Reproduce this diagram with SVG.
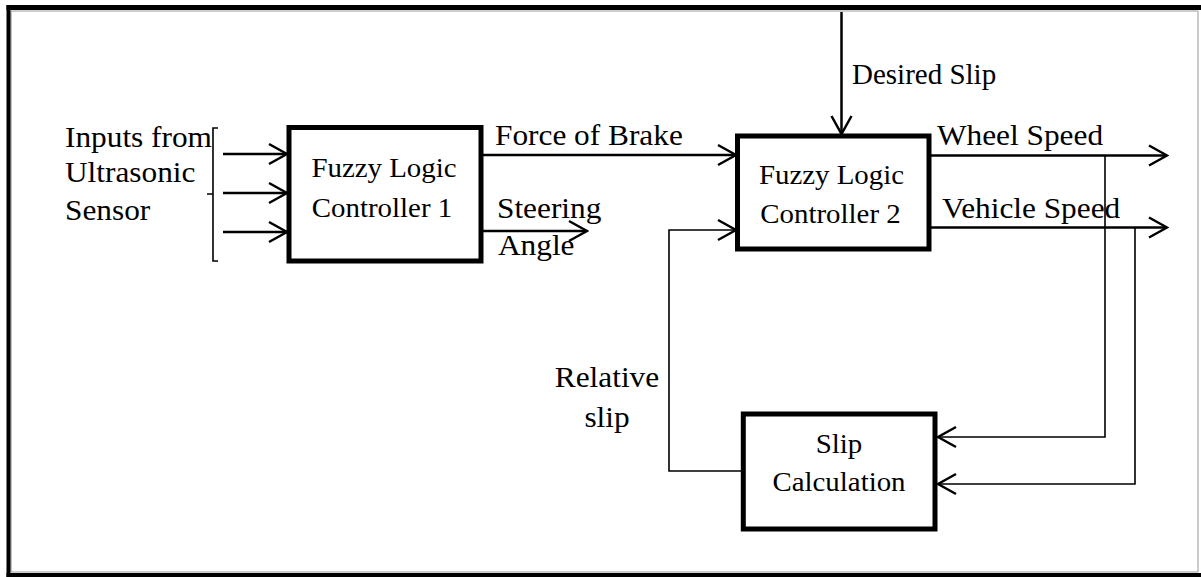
<svg xmlns="http://www.w3.org/2000/svg" width="1201" height="577" viewBox="0 0 1201 577">
<style>
.lbl{font-size:29px}
.box{font-size:27px}
.node rect{fill:#fff;stroke:#000;stroke-width:5}
.c{fill:none;stroke:#000;stroke-width:2.5}
.f{fill:none;stroke:#000;stroke-width:1.6}
</style>
<defs>
<marker id="arr" viewBox="0 0 22 24" refX="20" refY="12" markerWidth="22" markerHeight="24" markerUnits="userSpaceOnUse" orient="auto">
<path d="M2,2 L20,12 L2,22" fill="none" stroke="#000" stroke-width="2.5"/>
</marker>
</defs>
<rect width="1201" height="577" fill="#fff"/>
<g id="frame">
<line x1="11" y1="11" x2="1198" y2="11" stroke="#999" stroke-width="1.2"/>
<line x1="11" y1="11" x2="11" y2="572" stroke="#999" stroke-width="1.2"/>
<line x1="11" y1="572" x2="1198" y2="572" stroke="#999" stroke-width="1.2"/>
<line x1="1198" y1="11" x2="1198" y2="572" stroke="#aaa" stroke-width="1.2"/>
<line x1="6.5" y1="7.5" x2="1201" y2="7.5" stroke="#000" stroke-width="5"/>
<line x1="8.5" y1="5" x2="8.5" y2="577" stroke="#000" stroke-width="4"/>
<line x1="6.5" y1="575" x2="1201" y2="575" stroke="#000" stroke-width="4"/>
</g>
<g id="connectors">
<path class="f" d="M218,128 H213 V261 H218 M207,194 H213"/>
<path class="c" d="M223,154 H287" marker-end="url(#arr)"/>
<path class="c" d="M223,193 H287" marker-end="url(#arr)"/>
<path class="c" d="M223,232 H287" marker-end="url(#arr)"/>
<path class="c" d="M482,155 H736" marker-end="url(#arr)"/>
<path class="c" d="M482,231 H587" marker-end="url(#arr)"/>
<path class="c" d="M841.5,12 V134" marker-end="url(#arr)"/>
<path class="c" d="M929,155.5 H1167" marker-end="url(#arr)"/>
<path class="c" d="M929,227.5 H1167" marker-end="url(#arr)"/>
<path class="f" d="M1105,155.5 V437 H938" marker-end="url(#arr)"/>
<path class="f" d="M1135,227.5 V484 H938" marker-end="url(#arr)"/>
<path class="f" d="M743,471 H669 V230 H736" marker-end="url(#arr)"/>
</g>
<g id="labels" font-family="Liberation Serif" fill="#000">
<text class="lbl" transform="translate(65,147) scale(1.08,1)">Inputs from</text>
<text class="lbl" transform="translate(65,182) scale(1.08,1)">Ultrasonic</text>
<text class="lbl" transform="translate(65,220) scale(1.08,1)">Sensor</text>
<text class="lbl" transform="translate(495,145) scale(1.08,1)">Force of Brake</text>
<text class="lbl" transform="translate(497,218) scale(1.08,1)">Steering</text>
<text class="lbl" transform="translate(498,255) scale(1.08,1)">Angle</text>
<text class="lbl" transform="translate(852,84)">Desired Slip</text>
<text class="lbl" transform="translate(937,145) scale(1.08,1)">Wheel Speed</text>
<text class="lbl" transform="translate(942,218) scale(1.08,1)">Vehicle Speed</text>
<text class="lbl" text-anchor="middle" transform="translate(607,387) scale(1.08,1)">Relative</text>
<text class="lbl" text-anchor="middle" transform="translate(607,427) scale(1.08,1)">slip</text>
</g>
<g id="flc1" class="node" font-family="Liberation Serif">
<rect x="289" y="127.5" width="192" height="133.5"/>
<text class="box" text-anchor="middle" transform="translate(384,177) scale(1.07,1)">Fuzzy Logic</text>
<text class="box" text-anchor="middle" transform="translate(382,217) scale(1.07,1)">Controller 1</text>
</g>
<g id="flc2" class="node" font-family="Liberation Serif">
<rect x="737.5" y="136" width="191.5" height="113"/>
<text class="box" text-anchor="middle" transform="translate(831.5,184) scale(1.07,1)">Fuzzy Logic</text>
<text class="box" text-anchor="middle" transform="translate(830.5,223) scale(1.07,1)">Controller 2</text>
</g>
<g id="slip" class="node" font-family="Liberation Serif">
<rect x="743.3" y="414" width="191.7" height="115"/>
<text class="box" text-anchor="middle" transform="translate(839,453) scale(1.07,1)">Slip</text>
<text class="box" text-anchor="middle" transform="translate(839,491) scale(1.07,1)">Calculation</text>
</g>
</svg>
